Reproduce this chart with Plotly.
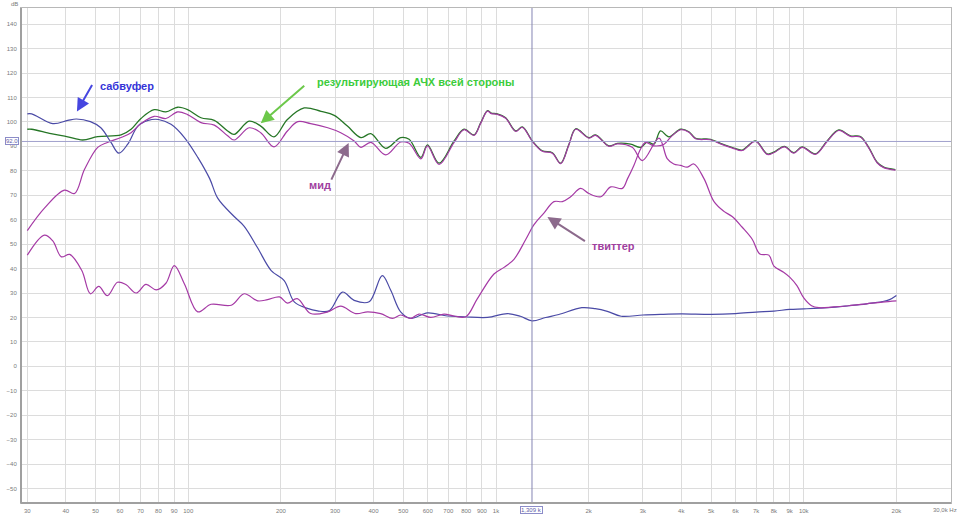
import math
import plotly.graph_objects as go

# ---------------- data ----------------
green_f = [30, 31, 35.8, 40.6, 45.4, 50.8, 60.5, 65.2, 70.2, 77.5, 84.6, 92.4, 99.5, 110, 121.5, 134.3, 141,
           157.8, 172, 190, 210, 238, 270, 298, 329, 364, 392, 438, 490, 522, 570, 599, 653, 731, 787, 848,
           892, 938, 965, 1010, 1075, 1159, 1218, 1313, 1414, 1524, 1622, 1726, 1815, 2004, 2107, 2328, 2479,
           2737, 2950, 3102, 3260, 3425, 3645, 3979, 4233, 4450, 4980, 5364, 5925, 6310, 6970, 7606, 7990,
           8656, 9278, 9880, 10910, 11910, 12990, 14180, 15280, 16255, 17310, 18190, 19850]
green_db = [97.0, 97.0, 95.2, 93.9, 92.6, 94.0, 94.7, 97.0, 101.4, 105.0, 104.1, 106.0, 105.0, 101.7, 100.6, 96.3, 94.9,
            100.3, 98.3, 93.9, 101.0, 105.7, 104.3, 102.7, 98.3, 93.6, 95.2, 89.2, 93.6, 92.9, 85.5, 90.6, 83.1, 92.2, 97.0, 94.7,
            99.7, 104.6, 103.6, 103.3, 101.7, 96.3, 98.0, 92.2, 88.2, 87.4, 83.1, 90.9, 97.2, 93.6, 94.7, 90.2, 91.2,
            90.9, 89.6, 91.8, 90.9, 96.3, 93.9, 97.0, 96.0, 93.3, 92.9, 91.2, 89.3, 88.5, 92.2, 86.9, 87.6,
            90.0, 87.4, 89.8, 86.9, 92.2, 96.7, 94.3, 94.0, 89.6, 83.5, 81.5, 80.5]

sub_f = [30, 31, 36.3, 40.6, 43.3, 48.1, 52, 56.1, 59.5, 63.6, 68.6, 74.1, 80, 87.9, 97.2, 107.4, 117.4, 124.8,
         141, 152, 168, 186, 205, 221, 244, 263, 287, 317, 346, 387, 427, 455, 490, 528, 599, 695, 787, 938,
         1089, 1200, 1310, 1450, 1600, 1900, 2100, 2300, 2550, 3000, 3500, 4000, 5000, 6000, 7000, 8000, 9000,
         10000, 12000, 14000, 16000, 18000, 19000, 20000]
sub_db = [103.3, 103.3, 99.3, 100.6, 101.2, 100.1, 97.6, 91.6, 87.2, 90.9, 98.3, 100.6, 101.0, 99.0, 93.6, 85.5, 76.8, 68.7,
          61.3, 57.3, 48.5, 39.2, 35.1, 26.4, 23.7, 22.7, 22.7, 30.4, 27.0, 26.4, 37.1, 31.1, 22.3, 19.6, 21.9, 20.6, 20.3, 20.0,
          21.6, 20.5, 18.6, 20.0, 21.2, 24.0, 23.6, 22.5, 20.5, 21.0, 21.3, 21.5, 21.3, 21.6, 22.2, 22.6, 23.3,
          23.5, 24.0, 24.8, 25.6, 26.5, 27.3, 29.0]

mid_f = [30, 34.1, 39.6, 42.7, 46, 50.8, 54.6, 60.5, 65.2, 70.2, 77.5, 84.6, 92.4, 99.5, 110, 121.5, 134.3, 141,
         157.8, 172, 190, 210, 227, 250, 284, 313, 346, 364, 392, 438, 490, 522, 570, 599, 653, 731, 787, 848,
         892, 938, 965, 1010, 1075, 1159, 1218, 1313, 1414, 1524, 1622, 1726, 1815, 2004, 2107, 2328, 2479,
         2770, 2990, 3385, 3600, 3780, 3979, 4184, 4396, 4740, 5110, 5504, 5852, 6300, 6800, 7200, 7700,
         8000, 8600, 9000, 9500, 10000, 10600, 11200, 12500, 14000, 16000, 18000, 20000]
mid_db = [55.5, 64.7, 72.1, 70.7, 80.5, 89.6, 91.6, 93.6, 95.6, 99.3, 102.3, 101.4, 104.1, 103.0, 99.7, 98.7, 94.3, 92.6,
          97.6, 95.6, 89.8, 96.3, 100.1, 99.3, 97.6, 95.6, 92.2, 89.6, 91.6, 86.5, 91.8, 91.3, 84.9, 90.2, 82.6, 91.6, 96.8, 94.5,
          99.5, 104.4, 103.4, 103.1, 101.5, 96.1, 97.8, 92.0, 88.0, 87.2, 82.9, 90.7, 97.0, 93.4, 94.5, 90.0, 91.0,
          89.6, 84.2, 93.4, 85.0, 82.8, 82.2, 81.5, 82.8, 76.8, 67.4, 63.4, 61.3, 57.0, 52.0, 46.0, 45.5,
          41.0, 38.5, 36.5, 33.0, 28.0, 24.8, 24.0, 24.3, 24.8, 25.6, 26.3, 26.8]

tw_f = [30, 34.1, 36.3, 38.7, 41.2, 45.1, 48.1, 51.2, 54.6, 58.9, 62.7, 67.7, 72.9, 78.7, 84.6, 90.1, 97.2, 107.4,
        118.6, 138, 152, 168, 181, 198, 210, 226, 250, 284, 313, 350, 383, 422, 461, 490, 528, 562, 614, 678, 731,
        798, 870, 985, 1062, 1144, 1249, 1329, 1431, 1543, 1643, 1748, 1884, 2004, 2190, 2360, 2574, 2676, 2805,
        2950, 3063, 3260, 3516, 3710, 3979, 4233, 4450, 4980, 5364, 5925, 6310, 6970, 7606, 7990, 8656, 9278,
        9880, 10910, 11910, 12990, 14180, 15280, 16255, 17310, 18190, 19850]
tw_db = [45.5, 53.7, 51.3, 44.8, 45.8, 39.2, 29.7, 32.7, 28.9, 34.4, 33.5, 30.0, 33.5, 31.3, 34.0, 41.2, 33.7, 22.3,
         25.4, 25.0, 29.7, 26.8, 27.3, 28.4, 25.9, 27.7, 21.6, 22.3, 24.6, 21.6, 22.3, 21.6, 19.6, 21.0, 19.6, 21.4, 20.0, 21.4, 20.6,
         20.3, 27.7, 37.8, 40.5, 43.8, 51.9, 58.0, 62.7, 67.4, 67.4, 69.4, 72.8, 70.7, 69.4, 73.4, 72.8, 76.8, 82.2,
         88.9, 91.6, 90.2, 90.9, 94.0, 96.8, 95.8, 93.1, 92.7, 91.0, 89.1, 88.3, 92.0, 86.7, 87.4, 89.8, 87.2,
         89.6, 86.7, 92.0, 96.5, 94.1, 93.8, 89.4, 83.3, 81.3, 80.3]

x_tick_vals = [30, 40, 50, 60, 70, 80, 90, 100, 200, 300, 400, 500, 600, 700, 800, 900,
               1000, 2000, 3000, 4000, 5000, 6000, 7000, 8000, 9000, 10000, 20000, 30000]
x_tick_text = ["30", "40", "50", "60", "70", "80", "90", "100", "200", "300", "400", "500", "600", "700", "800", "900",
               "1k", "2k", "3k", "4k", "5k", "6k", "7k", "8k", "9k", "10k", "20k", ""]
last_tick_label = "30,0k Hz"
y_tick_vals = list(range(-50, 150, 10))

cursor_freq = 1309
cursor_label = "1,309 k"
ref_level = 92.0

# ---------------- layout geometry ----------------
L, R, T, B = 20, 951, 7, 509
W, H = 960, 521
XMIN, XMAX = 1.4566, 4.4784
YMIN, YMAX = -55.9, 146.6


def pxx(xp):
    return (xp - L) / (R - L)


def pxy(yp):
    return (B - yp) / (B - T)


GREEN = "#267626"
BLUE = "#4a4aa6"
PURPLE = "#a53aa5"

fig = go.Figure()
fig.add_trace(go.Scatter(x=green_f, y=green_db, mode="lines", line=dict(color=GREEN, width=1.3, shape="spline", smoothing=1.0)))
fig.add_trace(go.Scatter(x=sub_f, y=sub_db, mode="lines", line=dict(color=BLUE, width=1.2, shape="spline", smoothing=1.0)))
fig.add_trace(go.Scatter(x=mid_f, y=mid_db, mode="lines", line=dict(color=PURPLE, width=1.2, shape="spline", smoothing=1.0)))
fig.add_trace(go.Scatter(x=tw_f, y=tw_db, mode="lines", line=dict(color=PURPLE, width=1.2, shape="spline", smoothing=1.0)))

tick_font = dict(family="Liberation Sans, Arial, sans-serif", size=6, color="#7a7a7a")

fig.update_xaxes(type="log", range=[XMIN, XMAX], tickvals=x_tick_vals, ticktext=x_tick_text,
                 showgrid=True, gridcolor="#dcdcdc", gridwidth=1, zeroline=False,
                 showline=True, mirror=True, linecolor="#b8b8b8", linewidth=1,
                 ticks="", tickfont=tick_font, ticklabelstandoff=2)
fig.update_yaxes(range=[YMIN, YMAX], tickvals=y_tick_vals,
                 showgrid=True, gridcolor="#dcdcdc", gridwidth=1, zeroline=False,
                 showline=True, mirror=True, linecolor="#b8b8b8", linewidth=1,
                 ticks="", tickfont=tick_font, ticklabelstandoff=2)

shapes = []
ref_y = (ref_level - YMIN) / (YMAX - YMIN)
shapes.append(dict(type="line", xref="paper", yref="paper", x0=0, x1=1, y0=ref_y, y1=ref_y,
                   line=dict(color="#a0a0cc", width=1)))
cx = (math.log10(cursor_freq) - XMIN) / (XMAX - XMIN)
shapes.append(dict(type="line", xref="paper", yref="paper", x0=cx, x1=cx, y0=0, y1=1,
                   line=dict(color="#8484b4", width=1)))
shapes.append(dict(type="line", xref="paper", yref="paper", x0=0, x1=0, y0=0, y1=1,
                   line=dict(color="#a0a0a0", width=2)))
shapes.append(dict(type="line", xref="paper", yref="paper", x0=0, x1=1, y0=0, y1=0,
                   line=dict(color="#a0a0a0", width=2)))

ann = []
lab_font = "Liberation Sans, Arial, sans-serif"


def text_ann(txt, xp, yp, color, size=11, bold=True):
    ann.append(dict(xref="paper", yref="paper", x=pxx(xp), y=pxy(yp), xanchor="left", yanchor="middle",
                    text=("<b>%s</b>" % txt) if bold else txt, showarrow=False,
                    font=dict(family=lab_font, size=size, color=color)))


def arrow_ann(head, tail, color):
    ann.append(dict(xref="paper", yref="paper", x=pxx(head[0]), y=pxy(head[1]),
                    ax=tail[0] - head[0], ay=tail[1] - head[1], text="", showarrow=True,
                    arrowhead=2, arrowsize=1.3, arrowwidth=2, arrowcolor=color))


text_ann("сабвуфер", 97, 86, "#3434d8")
text_ann("результирующая АЧХ всей стороны", 314, 82, "#3ccc3c")
text_ann("мид", 306, 187, "#a040a0")
text_ann("твиттер", 590, 248, "#a040a0")
arrow_ann((76, 112), (92, 84), "#4646e0")
arrow_ann((260, 124), (305, 85), "#6cc84a")
arrow_ann((348, 144), (330, 182), "#8c6a8c")
arrow_ann((547, 219), (586, 244), "#8c6a8c")

ann.append(dict(xref="paper", yref="paper", x=pxx(11), y=ref_y, xanchor="center", yanchor="middle",
                text="92.0", showarrow=False, font=dict(family=lab_font, size=6, color="#6060a8"),
                bordercolor="#8c8cc8", borderwidth=1, borderpad=0, bgcolor="white"))
ann.append(dict(xref="paper", yref="paper", x=cx, y=pxy(516), xanchor="center", yanchor="middle",
                text=cursor_label, showarrow=False, font=dict(family=lab_font, size=6, color="#6060a8"),
                bordercolor="#8c8cc8", borderwidth=1, borderpad=0, bgcolor="white"))
ann.append(dict(xref="paper", yref="paper", x=pxx(13), y=pxy(3), xanchor="center", yanchor="middle",
                text="dB", showarrow=False, font=dict(family=lab_font, size=6, color="#7a7a7a")))
ann.append(dict(xref="paper", yref="paper", x=pxx(959), y=pxy(516), xanchor="right", yanchor="middle",
                text=last_tick_label, showarrow=False, font=dict(family=lab_font, size=6, color="#7a7a7a")))

fig.update_layout(width=W, height=H, margin=dict(l=L, r=W - R, t=T, b=H - B),
                  paper_bgcolor="white", plot_bgcolor="white", showlegend=False,
                  shapes=shapes, annotations=ann)

fig.write_html("out.html")
